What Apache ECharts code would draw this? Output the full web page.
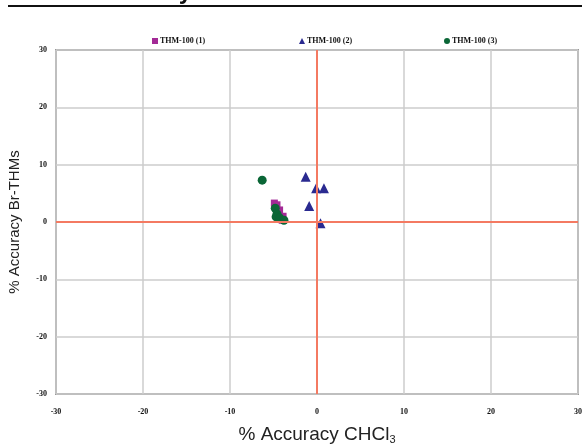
<!DOCTYPE html>
<html>
<head>
<meta charset="utf-8">
<script src="https://cdn.jsdelivr.net/npm/echarts@6/dist/echarts.min.js"></script>
<style>
  html, body { margin: 0; padding: 0; background: #fff; }
  #chart { width: 582px; height: 445px; }
</style>
</head>
<body>
<div id="chart"></div>
<script>
// series data: [% accuracy CHCl3, % accuracy Br-THMs]
var thm1 = [[-4.9, 3.3], [-4.6, 3.0], [-4.3, 2.1], [-3.9, 1.0], [-4.0, 0.3]];
var thm2 = [[-1.3, 7.9], [-0.1, 5.9], [0.8, 5.9], [-0.9, 2.8], [0.4, -0.2]];
var thm3 = [[-6.3, 7.3], [-4.8, 2.4], [-4.6, 1.4], [-4.7, 0.9], [-4.3, 0.7], [-3.8, 0.3]];
var seriesNames = ['THM-100 (1)', 'THM-100 (2)', 'THM-100 (3)'];
var axisMin = -30, axisMax = 30, axisStep = 10;

var tickFont = { fontFamily: 'Liberation Serif', fontWeight: 'bold', fontSize: 8, color: '#111' };

function legendAt(name, left, icon) {
    return {
        data: [{ name: name, icon: icon }],
        left: left,
        top: 32,
        itemWidth: 6,
        itemHeight: 6,
        itemGap: 2,
        textStyle: { fontFamily: 'Liberation Serif', fontWeight: 'bold', fontSize: 8, color: '#111', padding: [0, 0, 0, -3] }
    };
}

var chart = echarts.init(document.getElementById('chart'));
chart.setOption({
    animation: false,
    graphic: [
        { type: 'line', shape: { x1: 8, y1: 6, x2: 582, y2: 6 }, style: { stroke: '#111', lineWidth: 2 } },
        { type: 'text', x: 192, y: 4, style: { text: 'Accuracy', fontFamily: 'Liberation Sans', fontWeight: 'bold', fontSize: 24, fill: '#111', align: 'right', verticalAlign: 'bottom' } }
    ],
    legend: [
        legendAt(seriesNames[0], 147, 'rect'),
        legendAt(seriesNames[1], 294, 'triangle'),
        legendAt(seriesNames[2], 439, 'circle')
    ],
    grid: {
        left: 56, right: 4, top: 50, bottom: 51,
        outerBoundsMode: 'none', containLabel: false,
        show: true, borderColor: '#999', borderWidth: 2
    },
    xAxis: {
        type: 'value', min: axisMin, max: axisMax, interval: axisStep,
        name: '% Accuracy CHCl{sub|3}',
        nameLocation: 'middle', nameGap: 31,
        nameTextStyle: {
            fontFamily: 'Liberation Sans', fontSize: 19, color: '#222',
            rich: { sub: { fontFamily: 'Liberation Sans', fontSize: 11, color: '#222', verticalAlign: 'bottom', padding: [9, 0, 0, 0] } }
        },
        axisLine: { show: false },
        axisTick: { show: false },
        axisLabel: Object.assign({ margin: 14 }, tickFont),
        splitLine: { lineStyle: { color: '#ccc', width: 1.5 } }
    },
    yAxis: {
        type: 'value', min: axisMin, max: axisMax, interval: axisStep,
        name: '% Accuracy Br-THMs',
        nameLocation: 'middle', nameGap: 34,
        nameTextStyle: { fontFamily: 'Liberation Sans', fontSize: 15, color: '#222' },
        axisLine: { show: false },
        axisTick: { show: false },
        axisLabel: Object.assign({ margin: 9 }, tickFont),
        splitLine: { lineStyle: { color: '#ccc', width: 1.5 } }
    },
    series: [
        {
            name: seriesNames[0], type: 'scatter', data: thm1,
            symbol: 'rect', symbolSize: 7,
            itemStyle: { color: '#a32a96', opacity: 1 },
            markLine: {
                silent: true, symbol: 'none', label: { show: false },
                lineStyle: { color: '#f47a62', width: 2, type: 'solid' },
                data: [{ xAxis: 0 }, { yAxis: 0 }]
            },
            z: 3
        },
        {
            name: seriesNames[1], type: 'scatter', data: thm2,
            symbol: 'triangle', symbolSize: 10,
            itemStyle: { color: '#2a2a90', opacity: 1 }, z: 3
        },
        {
            name: seriesNames[2], type: 'scatter', data: thm3,
            symbol: 'circle', symbolSize: 9,
            itemStyle: { color: '#0a6636', opacity: 1 }, z: 4
        }
    ]
});
</script>
</body>
</html>
